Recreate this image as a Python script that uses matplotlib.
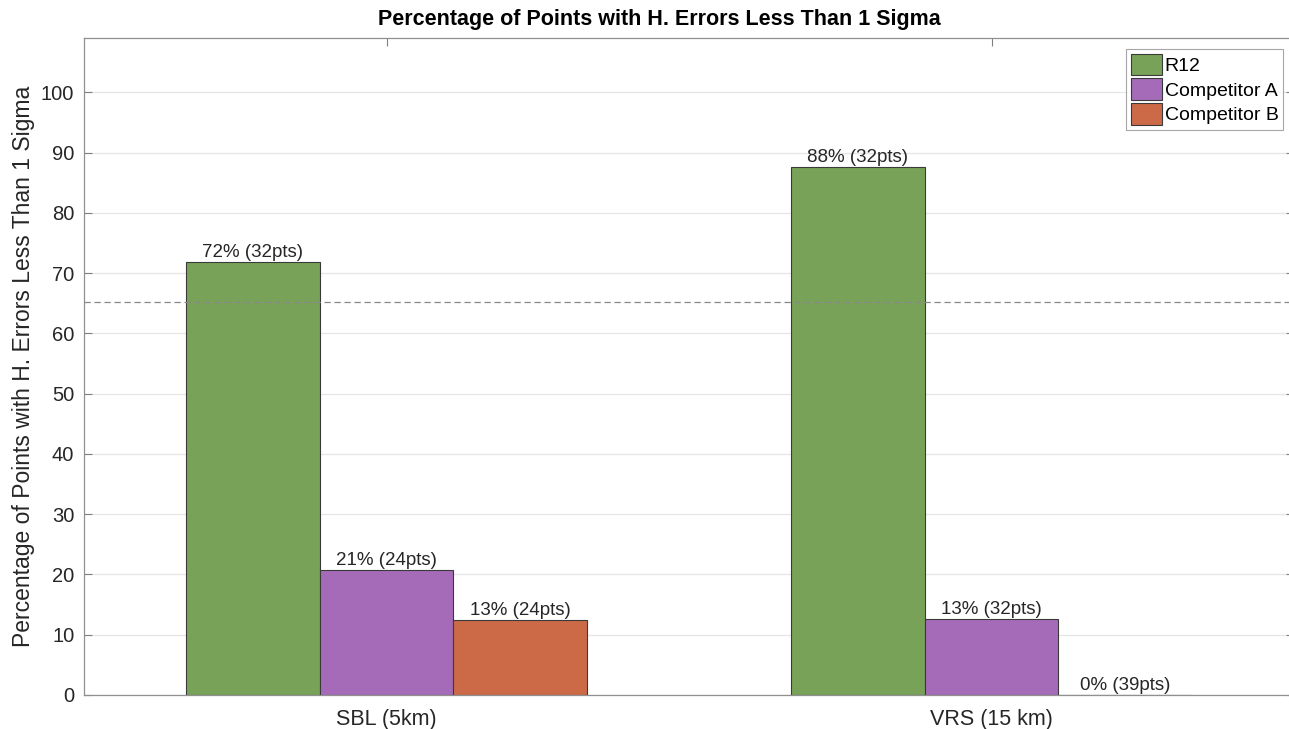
import matplotlib
matplotlib.use("Agg")
import matplotlib.pyplot as plt
import numpy as np

plt.rcParams['font.family'] = ['Liberation Sans', 'DejaVu Sans']

categories = ["SBL (5km)", "VRS (15 km)"]
series_names = ["R12", "Competitor A", "Competitor B"]
r12 = [71.9, 87.6]
comp_a = [20.8, 12.6]
comp_b = [12.5, 0.0]
labels_r12 = ["72% (32pts)", "88% (32pts)"]
labels_a = ["21% (24pts)", "13% (32pts)"]
labels_b = ["13% (24pts)", "0% (39pts)"]
threshold = 65.2
yticks = [0, 10, 20, 30, 40, 50, 60, 70, 80, 90, 100]

colors = ["#78a257", "#a66bb8", "#cc6a47"]

W, H = 1289, 729
fig = plt.figure(figsize=(W / 100, H / 100), dpi=100)
ax = fig.add_axes([84 / W, 1 - 695 / H, (1294 - 84) / W, (695 - 38) / H])

x = np.arange(1, len(categories) + 1)
bw = 0.221
all_vals = [r12, comp_a, comp_b]
all_labels = [labels_r12, labels_a, labels_b]
for i, (vals, labs) in enumerate(zip(all_vals, all_labels)):
    pos = x + (i - 1) * bw
    ax.bar(pos, vals, width=bw, color=colors[i], edgecolor="#3a3a3a",
           linewidth=0.8, label=series_names[i], zorder=2)
    for p, v, t in zip(pos, vals, labs):
        ax.text(p, v + 0.1, t, ha="center", va="bottom", fontsize=13.5,
                color="#262626", zorder=4)

ax.axhline(threshold, color="#888888", linestyle=(0, (5, 3)), linewidth=0.9, zorder=3)

ax.set_xlim(0.5, 2.5)
ax.set_ylim(0, 109)
ax.set_xticks(x)
ax.set_xticklabels(categories, fontsize=15.5, color="#262626")
ax.set_yticks(yticks)
ax.set_yticklabels([str(t) for t in yticks], fontsize=14.5, color="#262626")
ax.yaxis.grid(True, color="#e6e6e6", linewidth=0.9, zorder=0)
ax.set_axisbelow(True)
ax.tick_params(direction="in", length=6, color="#808080", top=True, right=True,
               width=0.8)
ax.tick_params(axis="x", pad=10)
ax.tick_params(axis="y", pad=7)
for s in ax.spines.values():
    s.set_color("#909090")
    s.set_linewidth(0.9)

ax.set_ylabel("Percentage of Points with H. Errors Less Than 1 Sigma", fontsize=16.5,
              color="#262626", labelpad=4)
fig.text(659 / W, 1 - 19 / H, "Percentage of Points with H. Errors Less Than 1 Sigma",
         fontsize=15.5, fontweight="bold", ha="center", va="center")

leg = ax.legend(loc="upper right", fontsize=14, frameon=True, fancybox=False,
                borderpad=0.25, handlelength=1.6, handleheight=1.35,
                handletextpad=0.15, labelspacing=0.15, borderaxespad=0.55)
leg.get_frame().set_edgecolor("#909090")
leg.get_frame().set_linewidth(0.8)

fig.savefig("out.png", dpi=100)
